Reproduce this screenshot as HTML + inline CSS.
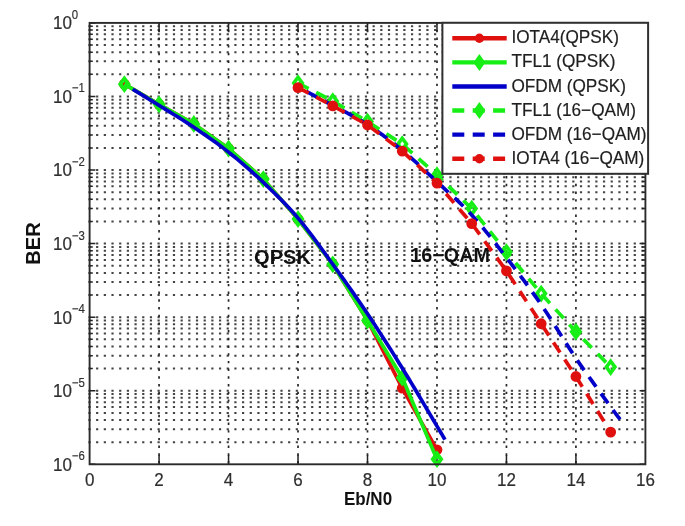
<!DOCTYPE html>
<html><head><meta charset="utf-8"><style>
html,body{margin:0;padding:0;background:#fff;}
body{width:685px;height:526px;overflow:hidden;font-family:"Liberation Sans",sans-serif;}
svg{display:block;filter:blur(0.55px);}
</style></head><body>
<svg width="685" height="526" viewBox="0 0 685 526" font-family="Liberation Sans, sans-serif"><path d="M88.40 96.47H645.40M88.40 74.32H645.40M88.40 61.37H645.40M88.40 52.18H645.40M88.40 45.05H645.40M88.40 39.22H645.40M88.40 34.30H645.40M88.40 30.03H645.40M88.40 26.27H645.40M88.40 170.03H645.40M88.40 147.89H645.40M88.40 134.93H645.40M88.40 125.74H645.40M88.40 118.61H645.40M88.40 112.79H645.40M88.40 107.86H645.40M88.40 103.60H645.40M88.40 99.83H645.40M88.40 243.60H645.40M88.40 221.45H645.40M88.40 208.50H645.40M88.40 199.31H645.40M88.40 192.18H645.40M88.40 186.35H645.40M88.40 181.43H645.40M88.40 177.16H645.40M88.40 173.40H645.40M88.40 317.17H645.40M88.40 295.02H645.40M88.40 282.07H645.40M88.40 272.88H645.40M88.40 265.75H645.40M88.40 259.92H645.40M88.40 255.00H645.40M88.40 250.73H645.40M88.40 246.97H645.40M88.40 390.73H645.40M88.40 368.59H645.40M88.40 355.63H645.40M88.40 346.44H645.40M88.40 339.31H645.40M88.40 333.49H645.40M88.40 328.56H645.40M88.40 324.30H645.40M88.40 320.53H645.40M88.40 442.15H645.40M88.40 429.20H645.40M88.40 420.01H645.40M88.40 412.88H645.40M88.40 407.05H645.40M88.40 402.13H645.40M88.40 397.86H645.40M88.40 394.10H645.40" stroke="#444444" stroke-width="2.0" stroke-dasharray="2.2 5.48" fill="none"/><path d="M159.07 22.10V464.30M228.55 22.10V464.30M298.02 22.10V464.30M367.50 22.10V464.30M436.98 22.10V464.30M506.45 22.10V464.30M575.92 22.10V464.30" stroke="#262626" stroke-width="1.7" stroke-dasharray="2.4 5.3" fill="none"/><text x="254.0" y="264.0" font-size="20.1" font-weight="bold" fill="#111">QPSK</text><text x="410.2" y="261.9" font-size="19.8" font-weight="bold" fill="#111">16−QAM</text><path d="M159.07 464.30V455.10M159.07 22.90V31.50M228.55 464.30V455.10M228.55 22.90V31.50M298.02 464.30V455.10M298.02 22.90V31.50M367.50 464.30V455.10M367.50 22.90V31.50M436.98 464.30V455.10M436.98 22.90V31.50M506.45 464.30V455.10M506.45 22.90V31.50M575.92 464.30V455.10M575.92 22.90V31.50M89.60 22.90H95.40M645.40 22.90H639.60M89.60 96.47H95.40M645.40 96.47H639.60M89.60 74.32H92.80M645.40 74.32H642.20M89.60 61.37H92.80M645.40 61.37H642.20M89.60 52.18H92.80M645.40 52.18H642.20M89.60 45.05H92.80M645.40 45.05H642.20M89.60 39.22H92.80M645.40 39.22H642.20M89.60 34.30H92.80M645.40 34.30H642.20M89.60 30.03H92.80M645.40 30.03H642.20M89.60 26.27H92.80M645.40 26.27H642.20M89.60 170.03H95.40M645.40 170.03H639.60M89.60 147.89H92.80M645.40 147.89H642.20M89.60 134.93H92.80M645.40 134.93H642.20M89.60 125.74H92.80M645.40 125.74H642.20M89.60 118.61H92.80M645.40 118.61H642.20M89.60 112.79H92.80M645.40 112.79H642.20M89.60 107.86H92.80M645.40 107.86H642.20M89.60 103.60H92.80M645.40 103.60H642.20M89.60 99.83H92.80M645.40 99.83H642.20M89.60 243.60H95.40M645.40 243.60H639.60M89.60 221.45H92.80M645.40 221.45H642.20M89.60 208.50H92.80M645.40 208.50H642.20M89.60 199.31H92.80M645.40 199.31H642.20M89.60 192.18H92.80M645.40 192.18H642.20M89.60 186.35H92.80M645.40 186.35H642.20M89.60 181.43H92.80M645.40 181.43H642.20M89.60 177.16H92.80M645.40 177.16H642.20M89.60 173.40H92.80M645.40 173.40H642.20M89.60 317.17H95.40M645.40 317.17H639.60M89.60 295.02H92.80M645.40 295.02H642.20M89.60 282.07H92.80M645.40 282.07H642.20M89.60 272.88H92.80M645.40 272.88H642.20M89.60 265.75H92.80M645.40 265.75H642.20M89.60 259.92H92.80M645.40 259.92H642.20M89.60 255.00H92.80M645.40 255.00H642.20M89.60 250.73H92.80M645.40 250.73H642.20M89.60 246.97H92.80M645.40 246.97H642.20M89.60 390.73H95.40M645.40 390.73H639.60M89.60 368.59H92.80M645.40 368.59H642.20M89.60 355.63H92.80M645.40 355.63H642.20M89.60 346.44H92.80M645.40 346.44H642.20M89.60 339.31H92.80M645.40 339.31H642.20M89.60 333.49H92.80M645.40 333.49H642.20M89.60 328.56H92.80M645.40 328.56H642.20M89.60 324.30H92.80M645.40 324.30H642.20M89.60 320.53H92.80M645.40 320.53H642.20M89.60 464.30H95.40M645.40 464.30H639.60" stroke="#222" stroke-width="1.5" fill="none"/><polyline points="124.34,84.14 159.07,104.35 193.81,123.90 228.55,148.59 263.29,179.10 298.02,219.08 332.76,264.28 367.50,320.51 402.24,388.13 436.98,449.80" stroke="#e0100f" stroke-width="3.7" fill="none" stroke-linejoin="round" stroke-linecap="butt"/><circle cx="124.34" cy="84.14" r="5.4" fill="#e0100f"/><circle cx="159.07" cy="104.35" r="5.4" fill="#e0100f"/><circle cx="193.81" cy="123.90" r="5.4" fill="#e0100f"/><circle cx="228.55" cy="148.59" r="5.4" fill="#e0100f"/><circle cx="263.29" cy="179.10" r="5.4" fill="#e0100f"/><circle cx="298.02" cy="219.08" r="5.4" fill="#e0100f"/><circle cx="332.76" cy="264.28" r="5.4" fill="#e0100f"/><circle cx="367.50" cy="320.51" r="5.4" fill="#e0100f"/><circle cx="402.24" cy="388.13" r="5.4" fill="#e0100f"/><circle cx="436.98" cy="449.80" r="5.4" fill="#e0100f"/><polyline points="124.34,84.14 159.07,104.35 193.81,123.90 228.55,148.59 263.29,179.10 298.02,219.08 332.76,264.28 367.50,320.51 402.24,377.69 436.98,459.21" stroke="#16ee16" stroke-width="3.7" fill="none" stroke-linejoin="round" stroke-linecap="butt"/><path d="M124.34 75.23L130.84 84.14L124.34 93.04L117.84 84.14ZM124.34 81.94L122.74 84.14L124.34 86.34L125.94 84.14Z" fill="#16ee16" fill-rule="evenodd"/><path d="M159.07 95.45L165.57 104.35L159.07 113.25L152.57 104.35Z" fill="#16ee16" fill-rule="evenodd"/><path d="M193.81 115.00L200.31 123.90L193.81 132.80L187.31 123.90Z" fill="#16ee16" fill-rule="evenodd"/><path d="M228.55 139.69L235.05 148.59L228.55 157.49L222.05 148.59Z" fill="#16ee16" fill-rule="evenodd"/><path d="M263.29 170.20L269.79 179.10L263.29 188.00L256.79 179.10Z" fill="#16ee16" fill-rule="evenodd"/><path d="M298.02 210.18L304.52 219.08L298.02 227.98L291.52 219.08Z" fill="#16ee16" fill-rule="evenodd"/><path d="M332.76 255.38L339.26 264.28L332.76 273.18L326.26 264.28Z" fill="#16ee16" fill-rule="evenodd"/><path d="M367.50 311.61L374.00 320.51L367.50 329.41L361.00 320.51Z" fill="#16ee16" fill-rule="evenodd"/><path d="M402.24 368.79L408.74 377.69L402.24 386.59L395.74 377.69Z" fill="#16ee16" fill-rule="evenodd"/><path d="M436.98 450.31L443.48 459.21L436.98 468.11L430.48 459.21ZM436.98 457.01L435.38 459.21L436.98 461.41L438.58 459.21Z" fill="#16ee16" fill-rule="evenodd"/><polyline points="132.67,89.21 133.92,89.97 135.45,90.90 137.22,91.98 139.21,93.19 141.38,94.51 143.70,95.92 146.15,97.41 148.68,98.96 151.27,100.55 153.89,102.16 156.50,103.78 159.07,105.38 161.68,106.99 164.38,108.66 167.17,110.38 170.04,112.14 172.96,113.95 175.92,115.79 178.92,117.65 181.92,119.55 184.93,121.46 187.93,123.39 190.89,125.33 193.81,127.28 196.71,129.23 199.60,131.19 202.50,133.16 205.39,135.14 208.29,137.15 211.18,139.18 214.08,141.24 216.97,143.33 219.87,145.46 222.76,147.63 225.66,149.85 228.55,152.12 231.44,154.44 234.34,156.79 237.23,159.18 240.13,161.61 243.02,164.08 245.92,166.58 248.81,169.13 251.71,171.71 254.60,174.32 257.50,176.98 260.39,179.67 263.29,182.40 266.18,185.16 269.08,187.92 271.97,190.71 274.87,193.52 277.76,196.37 280.66,199.27 283.55,202.23 286.45,205.24 289.34,208.33 292.24,211.51 295.13,214.77 298.02,218.13 300.92,221.60 303.81,225.18 306.71,228.85 309.60,232.61 312.50,236.45 315.39,240.34 318.29,244.28 321.18,248.26 324.08,252.26 326.97,256.27 329.87,260.29 332.76,264.28 335.66,268.28 338.55,272.29 341.45,276.32 344.34,280.37 347.24,284.45 350.13,288.55 353.03,292.68 355.92,296.84 358.82,301.03 361.71,305.25 364.61,309.52 367.50,313.82 370.39,318.17 373.29,322.55 376.18,326.96 379.08,331.41 381.97,335.90 384.87,340.41 387.76,344.96 390.66,349.53 393.55,354.13 396.45,358.75 399.34,363.40 402.24,368.07 405.22,372.91 408.34,378.04 411.55,383.36 414.81,388.79 418.07,394.25 421.28,399.65 424.40,404.91 427.38,409.94 430.17,414.66 432.73,418.99 435.02,422.84 436.98,426.13 438.60,428.86 439.95,431.11 441.04,432.95 441.92,434.42 442.60,435.58 443.14,436.48 443.56,437.19 443.88,437.75 444.16,438.21 444.40,438.63 444.66,439.07 444.96,439.58" stroke="#0000c8" stroke-width="3.7" fill="none" stroke-linejoin="round" stroke-linecap="butt"/><polyline points="298.02,83.11 332.76,101.11 367.50,121.62 402.24,144.11 436.98,175.13 471.71,208.57 506.45,252.08 541.19,293.61 575.92,331.68 610.66,367.11" stroke="#16ee16" stroke-width="3.7" fill="none" stroke-linejoin="round" stroke-linecap="butt" stroke-dasharray="12 8.4"/><path d="M298.02 74.21L304.52 83.11L298.02 92.01L291.52 83.11ZM298.02 80.31L296.02 83.11L298.02 85.91L300.02 83.11Z" fill="#16ee16" fill-rule="evenodd"/><path d="M332.76 92.21L339.26 101.11L332.76 110.01L326.26 101.11ZM332.76 98.31L330.76 101.11L332.76 103.91L334.76 101.11Z" fill="#16ee16" fill-rule="evenodd"/><path d="M367.50 112.72L374.00 121.62L367.50 130.52L361.00 121.62ZM367.50 118.82L365.50 121.62L367.50 124.42L369.50 121.62Z" fill="#16ee16" fill-rule="evenodd"/><path d="M402.24 135.21L408.74 144.11L402.24 153.01L395.74 144.11ZM402.24 141.31L400.24 144.11L402.24 146.91L404.24 144.11Z" fill="#16ee16" fill-rule="evenodd"/><path d="M436.98 166.23L443.48 175.13L436.98 184.03L430.48 175.13ZM436.98 172.33L434.98 175.13L436.98 177.93L438.98 175.13Z" fill="#16ee16" fill-rule="evenodd"/><path d="M471.71 199.67L478.21 208.57L471.71 217.47L465.21 208.57ZM471.71 205.77L469.71 208.57L471.71 211.37L473.71 208.57Z" fill="#16ee16" fill-rule="evenodd"/><path d="M506.45 243.18L512.95 252.08L506.45 260.98L499.95 252.08ZM506.45 249.28L504.45 252.08L506.45 254.88L508.45 252.08Z" fill="#16ee16" fill-rule="evenodd"/><path d="M541.19 284.71L547.69 293.61L541.19 302.51L534.69 293.61ZM541.19 290.81L539.19 293.61L541.19 296.41L543.19 293.61Z" fill="#16ee16" fill-rule="evenodd"/><path d="M575.92 322.78L582.42 331.68L575.92 340.58L569.42 331.68Z" fill="#16ee16" fill-rule="evenodd"/><path d="M610.66 358.21L617.16 367.11L610.66 376.01L604.16 367.11ZM610.66 364.31L608.66 367.11L610.66 369.91L612.66 367.11Z" fill="#16ee16" fill-rule="evenodd"/><polyline points="306.36,91.49 307.61,92.14 309.14,92.94 310.91,93.87 312.90,94.92 315.07,96.05 317.39,97.27 319.83,98.56 322.37,99.90 324.96,101.27 327.57,102.66 330.19,104.06 332.76,105.45 335.37,106.84 338.07,108.26 340.86,109.71 343.72,111.19 346.65,112.71 349.61,114.27 352.60,115.87 355.61,117.51 358.62,119.20 361.61,120.93 364.58,122.72 367.50,124.56 370.39,126.45 373.29,128.40 376.18,130.39 379.08,132.43 381.97,134.51 384.87,136.64 387.76,138.81 390.66,141.03 393.55,143.29 396.45,145.58 399.34,147.91 402.24,150.28 405.13,152.71 408.03,155.20 410.92,157.74 413.82,160.33 416.71,162.96 419.61,165.63 422.50,168.32 425.40,171.03 428.29,173.75 431.19,176.47 434.08,179.19 436.98,181.89 439.87,184.56 442.76,187.21 445.66,189.83 448.55,192.45 451.45,195.08 454.34,197.74 457.24,200.43 460.13,203.18 463.03,205.99 465.92,208.88 468.82,211.87 471.71,214.96 474.61,218.17 477.50,221.47 480.40,224.85 483.29,228.30 486.19,231.83 489.08,235.41 491.98,239.04 494.87,242.70 497.77,246.40 500.66,250.12 503.56,253.86 506.45,257.60 509.34,261.34 512.24,265.10 515.13,268.89 518.03,272.70 520.92,276.55 523.82,280.43 526.71,284.34 529.61,288.30 532.50,292.31 535.40,296.36 538.29,300.47 541.19,304.64 544.08,308.89 546.98,313.25 549.87,317.70 552.77,322.22 555.66,326.78 558.56,331.37 561.45,335.96 564.35,340.54 567.24,345.08 570.14,349.57 573.03,353.98 575.92,358.29 578.90,362.63 582.01,367.09 585.20,371.62 588.44,376.18 591.68,380.69 594.88,385.12 597.99,389.40 600.96,393.49 603.76,397.33 606.34,400.86 608.66,404.03 610.66,406.80 612.36,409.14 613.80,411.11 615.01,412.75 616.01,414.10 616.84,415.19 617.52,416.08 618.08,416.80 618.55,417.39 618.95,417.89 619.31,418.35 619.67,418.81 620.04,419.30" stroke="#0000c8" stroke-width="3.7" fill="none" stroke-linejoin="round" stroke-linecap="butt" stroke-dasharray="12 8.4"/><polyline points="298.02,87.66 332.76,105.82 367.50,125.00 402.24,151.09 436.98,183.07 471.71,223.56 506.45,270.90 541.19,323.75 575.92,376.52 610.66,432.08" stroke="#e0100f" stroke-width="3.7" fill="none" stroke-linejoin="round" stroke-linecap="butt" stroke-dasharray="12 8.4"/><circle cx="298.02" cy="87.66" r="5.4" fill="#e0100f"/><circle cx="332.76" cy="105.82" r="5.4" fill="#e0100f"/><circle cx="367.50" cy="125.00" r="5.4" fill="#e0100f"/><circle cx="402.24" cy="151.09" r="5.4" fill="#e0100f"/><circle cx="436.98" cy="183.07" r="5.4" fill="#e0100f"/><circle cx="471.71" cy="223.56" r="5.4" fill="#e0100f"/><circle cx="506.45" cy="270.90" r="5.4" fill="#e0100f"/><circle cx="541.19" cy="323.75" r="5.4" fill="#e0100f"/><circle cx="575.92" cy="376.52" r="5.4" fill="#e0100f"/><circle cx="610.66" cy="432.08" r="5.4" fill="#e0100f"/><rect x="89.60" y="22.90" width="555.80" height="441.40" stroke="#2a2a2a" stroke-width="1.9" fill="none"/><text transform="translate(89.60,485.8) scale(1,1.06)" font-size="17.0" text-anchor="middle" fill="#2e2e2e" stroke="#2e2e2e" stroke-width="0.2">0</text><text transform="translate(159.07,485.8) scale(1,1.06)" font-size="17.0" text-anchor="middle" fill="#2e2e2e" stroke="#2e2e2e" stroke-width="0.2">2</text><text transform="translate(228.55,485.8) scale(1,1.06)" font-size="17.0" text-anchor="middle" fill="#2e2e2e" stroke="#2e2e2e" stroke-width="0.2">4</text><text transform="translate(298.02,485.8) scale(1,1.06)" font-size="17.0" text-anchor="middle" fill="#2e2e2e" stroke="#2e2e2e" stroke-width="0.2">6</text><text transform="translate(367.50,485.8) scale(1,1.06)" font-size="17.0" text-anchor="middle" fill="#2e2e2e" stroke="#2e2e2e" stroke-width="0.2">8</text><text transform="translate(436.98,485.8) scale(1,1.06)" font-size="17.0" text-anchor="middle" fill="#2e2e2e" stroke="#2e2e2e" stroke-width="0.2">10</text><text transform="translate(506.45,485.8) scale(1,1.06)" font-size="17.0" text-anchor="middle" fill="#2e2e2e" stroke="#2e2e2e" stroke-width="0.2">12</text><text transform="translate(575.92,485.8) scale(1,1.06)" font-size="17.0" text-anchor="middle" fill="#2e2e2e" stroke="#2e2e2e" stroke-width="0.2">14</text><text transform="translate(645.40,485.8) scale(1,1.06)" font-size="17.0" text-anchor="middle" fill="#2e2e2e" stroke="#2e2e2e" stroke-width="0.2">16</text><text transform="translate(53.0,29.30) scale(1,1.06)" font-size="17.0" fill="#2e2e2e" stroke="#2e2e2e" stroke-width="0.2">10</text><text transform="translate(71.8,18.90) scale(1,1.06)" font-size="11.4" fill="#2e2e2e" stroke="#2e2e2e" stroke-width="0.15">0</text><text transform="translate(53.0,102.87) scale(1,1.06)" font-size="17.0" fill="#2e2e2e" stroke="#2e2e2e" stroke-width="0.2">10</text><text transform="translate(71.8,92.47) scale(1,1.06)" font-size="11.4" fill="#2e2e2e" stroke="#2e2e2e" stroke-width="0.15">−1</text><text transform="translate(53.0,176.43) scale(1,1.06)" font-size="17.0" fill="#2e2e2e" stroke="#2e2e2e" stroke-width="0.2">10</text><text transform="translate(71.8,166.03) scale(1,1.06)" font-size="11.4" fill="#2e2e2e" stroke="#2e2e2e" stroke-width="0.15">−2</text><text transform="translate(53.0,250.00) scale(1,1.06)" font-size="17.0" fill="#2e2e2e" stroke="#2e2e2e" stroke-width="0.2">10</text><text transform="translate(71.8,239.60) scale(1,1.06)" font-size="11.4" fill="#2e2e2e" stroke="#2e2e2e" stroke-width="0.15">−3</text><text transform="translate(53.0,323.57) scale(1,1.06)" font-size="17.0" fill="#2e2e2e" stroke="#2e2e2e" stroke-width="0.2">10</text><text transform="translate(71.8,313.17) scale(1,1.06)" font-size="11.4" fill="#2e2e2e" stroke="#2e2e2e" stroke-width="0.15">−4</text><text transform="translate(53.0,397.13) scale(1,1.06)" font-size="17.0" fill="#2e2e2e" stroke="#2e2e2e" stroke-width="0.2">10</text><text transform="translate(71.8,386.73) scale(1,1.06)" font-size="11.4" fill="#2e2e2e" stroke="#2e2e2e" stroke-width="0.15">−5</text><text transform="translate(53.0,470.70) scale(1,1.06)" font-size="17.0" fill="#2e2e2e" stroke="#2e2e2e" stroke-width="0.2">10</text><text transform="translate(71.8,460.30) scale(1,1.06)" font-size="11.4" fill="#2e2e2e" stroke="#2e2e2e" stroke-width="0.15">−6</text><text transform="translate(368,504.8) scale(1,1.04)" font-size="17" font-weight="bold" text-anchor="middle" fill="#111">Eb/N0</text><text transform="translate(40.0,243.5) rotate(-90)" font-size="20.1" font-weight="bold" text-anchor="middle" fill="#111">BER</text><rect x="442.40" y="22.80" width="205.70" height="151.00" fill="#fff" stroke="#303030" stroke-width="2.0"/><path d="M452.3 38.30H506.7" stroke="#e0100f" stroke-width="4.4"/><circle cx="479.4" cy="38.30" r="4.7" fill="#e0100f"/><text transform="translate(511.4,43.40) scale(1,1.04)" font-size="17.2" fill="#1e1e1e" stroke="#1e1e1e" stroke-width="0.18">IOTA4(QPSK)</text><path d="M452.3 62.38H506.7" stroke="#16ee16" stroke-width="4.4"/><path d="M479.4 53.88l6.0 8.5l-6.0 8.5l-6.0 -8.5Z" fill="#16ee16"/><text transform="translate(511.4,67.48) scale(1,1.04)" font-size="17.2" fill="#1e1e1e" stroke="#1e1e1e" stroke-width="0.18">TFL1 (QPSK)</text><path d="M452.3 86.46H506.7" stroke="#0000c8" stroke-width="4.4"/><text transform="translate(511.4,91.56) scale(1,1.04)" font-size="17.2" fill="#1e1e1e" stroke="#1e1e1e" stroke-width="0.18">OFDM (QPSK)</text><path d="M452.3 110.54H506.7" stroke="#16ee16" stroke-width="4.4" stroke-dasharray="12 8.4"/><path d="M479.4 102.04l6.0 8.5l-6.0 8.5l-6.0 -8.5Z" fill="#16ee16"/><text transform="translate(511.4,115.64) scale(1,1.04)" font-size="17.2" fill="#1e1e1e" stroke="#1e1e1e" stroke-width="0.18">TFL1 (16−QAM)</text><path d="M452.3 134.62H506.7" stroke="#0000c8" stroke-width="4.4" stroke-dasharray="12 8.4"/><text transform="translate(511.4,139.72) scale(1,1.04)" font-size="17.2" fill="#1e1e1e" stroke="#1e1e1e" stroke-width="0.18">OFDM (16−QAM)</text><path d="M452.3 158.70H506.7" stroke="#e0100f" stroke-width="4.4" stroke-dasharray="12 8.4"/><circle cx="479.4" cy="158.70" r="4.7" fill="#e0100f"/><text transform="translate(511.4,163.80) scale(1,1.04)" font-size="17.2" fill="#1e1e1e" stroke="#1e1e1e" stroke-width="0.18">IOTA4 (16−QAM)</text></svg>
</body></html>
